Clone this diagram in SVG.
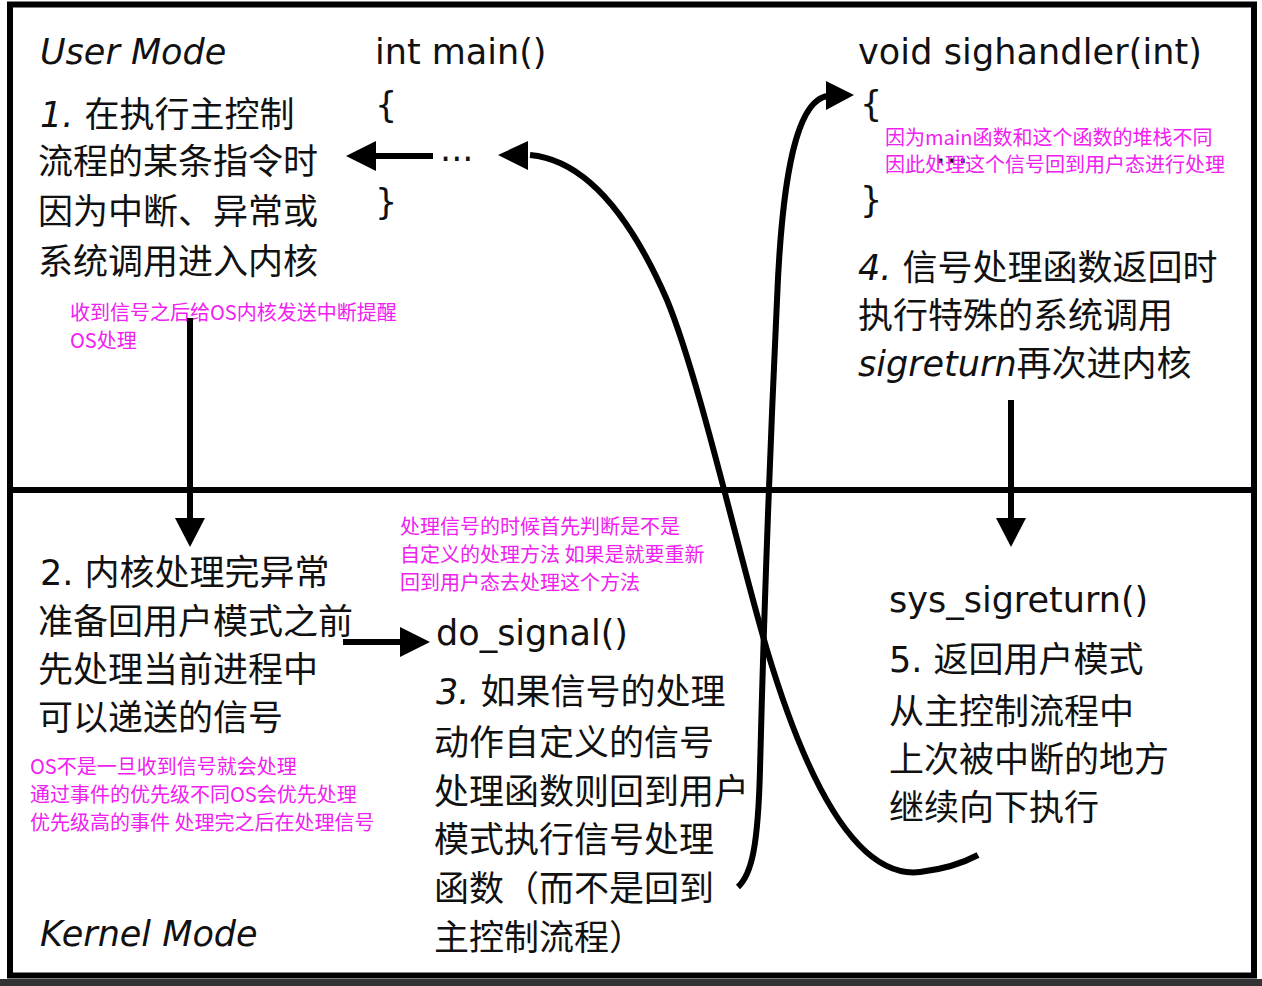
<svg xmlns="http://www.w3.org/2000/svg" width="1262" height="986" viewBox="0 0 1262 986">
<style>
.t{font-family:"DejaVu Sans","Noto Sans CJK SC",sans-serif;font-size:35px;fill:#111}
.it{font-style:italic}
.p{font-family:"Noto Sans CJK SC","DejaVu Sans",sans-serif;font-size:20px;fill:#f020f0}
.ln{stroke:#000;stroke-width:6;fill:none}
.hd{fill:#000}
</style>
<rect x="0" y="0" width="1262" height="986" fill="#fff"/>
<rect x="0" y="979" width="1262" height="7" fill="#333"/>
<g id="frame">
<rect x="10" y="4.5" width="1244" height="971" fill="none" stroke="#000" stroke-width="6"/>
<line x1="10" y1="490" x2="1254" y2="490" stroke="#000" stroke-width="6"/>
</g>
<g id="user-mode-label"><text class="t it" x="40" y="64">User Mode</text></g>
<g id="kernel-mode-label"><text class="t it" x="40" y="946">Kernel Mode</text></g>
<g id="main">
<text class="t" x="375" y="64">int main()</text>
<text class="t" x="375" y="117">{</text>
<text class="t" x="440" y="161">...</text>
<text class="t" x="375" y="214">}</text>
</g>
<g id="sighandler">
<text class="t" x="858" y="64" textLength="344">void sighandler(int)</text>
<text class="t" x="860" y="116">{</text>
<text class="t" x="935" y="163">...</text>
<text class="t" x="860" y="212">}</text>
<text class="p" x="885" y="145">因为main函数和这个函数的堆栈不同</text>
<text class="p" x="885" y="172">因此处理这个信号回到用户态进行处理</text>
</g>
<g id="step1">
<text class="t" x="40" y="127"><tspan class="it">1. </tspan>在执行主控制</text>
<text class="t" x="38" y="174">流程的某条指令时</text>
<text class="t" x="38" y="224">因为中断、异常或</text>
<text class="t" x="38" y="274">系统调用进入内核</text>
</g>
<g id="note1">
<text class="p" x="70" y="320">收到信号之后给OS内核发送中断提醒</text>
<text class="p" x="70" y="348">OS处理</text>
</g>
<g id="step4">
<text class="t" x="858" y="280"><tspan class="it">4. </tspan>信号处理函数返回时</text>
<text class="t" x="858" y="328">执行特殊的系统调用</text>
<text class="t" x="858" y="376"><tspan class="it">sigreturn</tspan>再次进内核</text>
</g>
<g id="step2">
<text class="t" x="40" y="585">2. 内核处理完异常</text>
<text class="t" x="38" y="634">准备回用户模式之前</text>
<text class="t" x="38" y="682">先处理当前进程中</text>
<text class="t" x="38" y="730">可以递送的信号</text>
</g>
<g id="note2">
<text class="p" x="30" y="774">OS不是一旦收到信号就会处理</text>
<text class="p" x="30" y="802">通过事件的优先级不同OS会优先处理</text>
<text class="p" x="30" y="830">优先级高的事件 处理完之后在处理信号</text>
</g>
<g id="note3">
<text class="p" x="400" y="534">处理信号的时候首先判断是不是</text>
<text class="p" x="400" y="562">自定义的处理方法 如果是就要重新</text>
<text class="p" x="400" y="590">回到用户态去处理这个方法</text>
</g>
<g id="step3">
<text class="t" x="436" y="645">do_signal()</text>
<text class="t" x="436" y="704"><tspan class="it">3. </tspan>如果信号的处理</text>
<text class="t" x="434" y="755">动作自定义的信号</text>
<text class="t" x="434" y="804">处理函数则回到用户</text>
<text class="t" x="434" y="852">模式执行信号处理</text>
<text class="t" x="434" y="901">函数（而不是回到</text>
<text class="t" x="434" y="950">主控制流程）</text>
</g>
<g id="step5">
<text class="t" x="889" y="612">sys_sigreturn()</text>
<text class="t" x="889" y="672">5. 返回用户模式</text>
<text class="t" x="889" y="724">从主控制流程中</text>
<text class="t" x="889" y="772">上次被中断的地方</text>
<text class="t" x="889" y="820">继续向下执行</text>
</g>
<g id="connectors">
<line class="ln" x1="433" y1="156" x2="372" y2="156"/>
<polygon class="hd" points="376,141 346,156 376,171"/>
<line class="ln" x1="190" y1="318" x2="190" y2="520"/>
<polygon class="hd" points="175,518 205,518 190,547"/>
<line class="ln" x1="1011" y1="400" x2="1011" y2="520"/>
<polygon class="hd" points="996,518 1026,518 1011,547"/>
<line class="ln" x1="343" y1="642" x2="403" y2="642"/>
<polygon class="hd" points="400,627 430,642 400,657"/>
<path class="ln" d="M530,155 C585,160 630,215 667,300 C700,380 740,560 767,650 C800,760 850,880 920,872 C945,869 965,862 978,855"/>
<polygon class="hd" points="528,141 498,155 528,170"/>
<path class="ln" d="M738,887 C752,874 758,845 760,770 C763,650 770,450 777,300 C781,200 792,100 828,96"/>
<polygon class="hd" points="826,81 854,95 826,110"/>
</g>
</svg>
